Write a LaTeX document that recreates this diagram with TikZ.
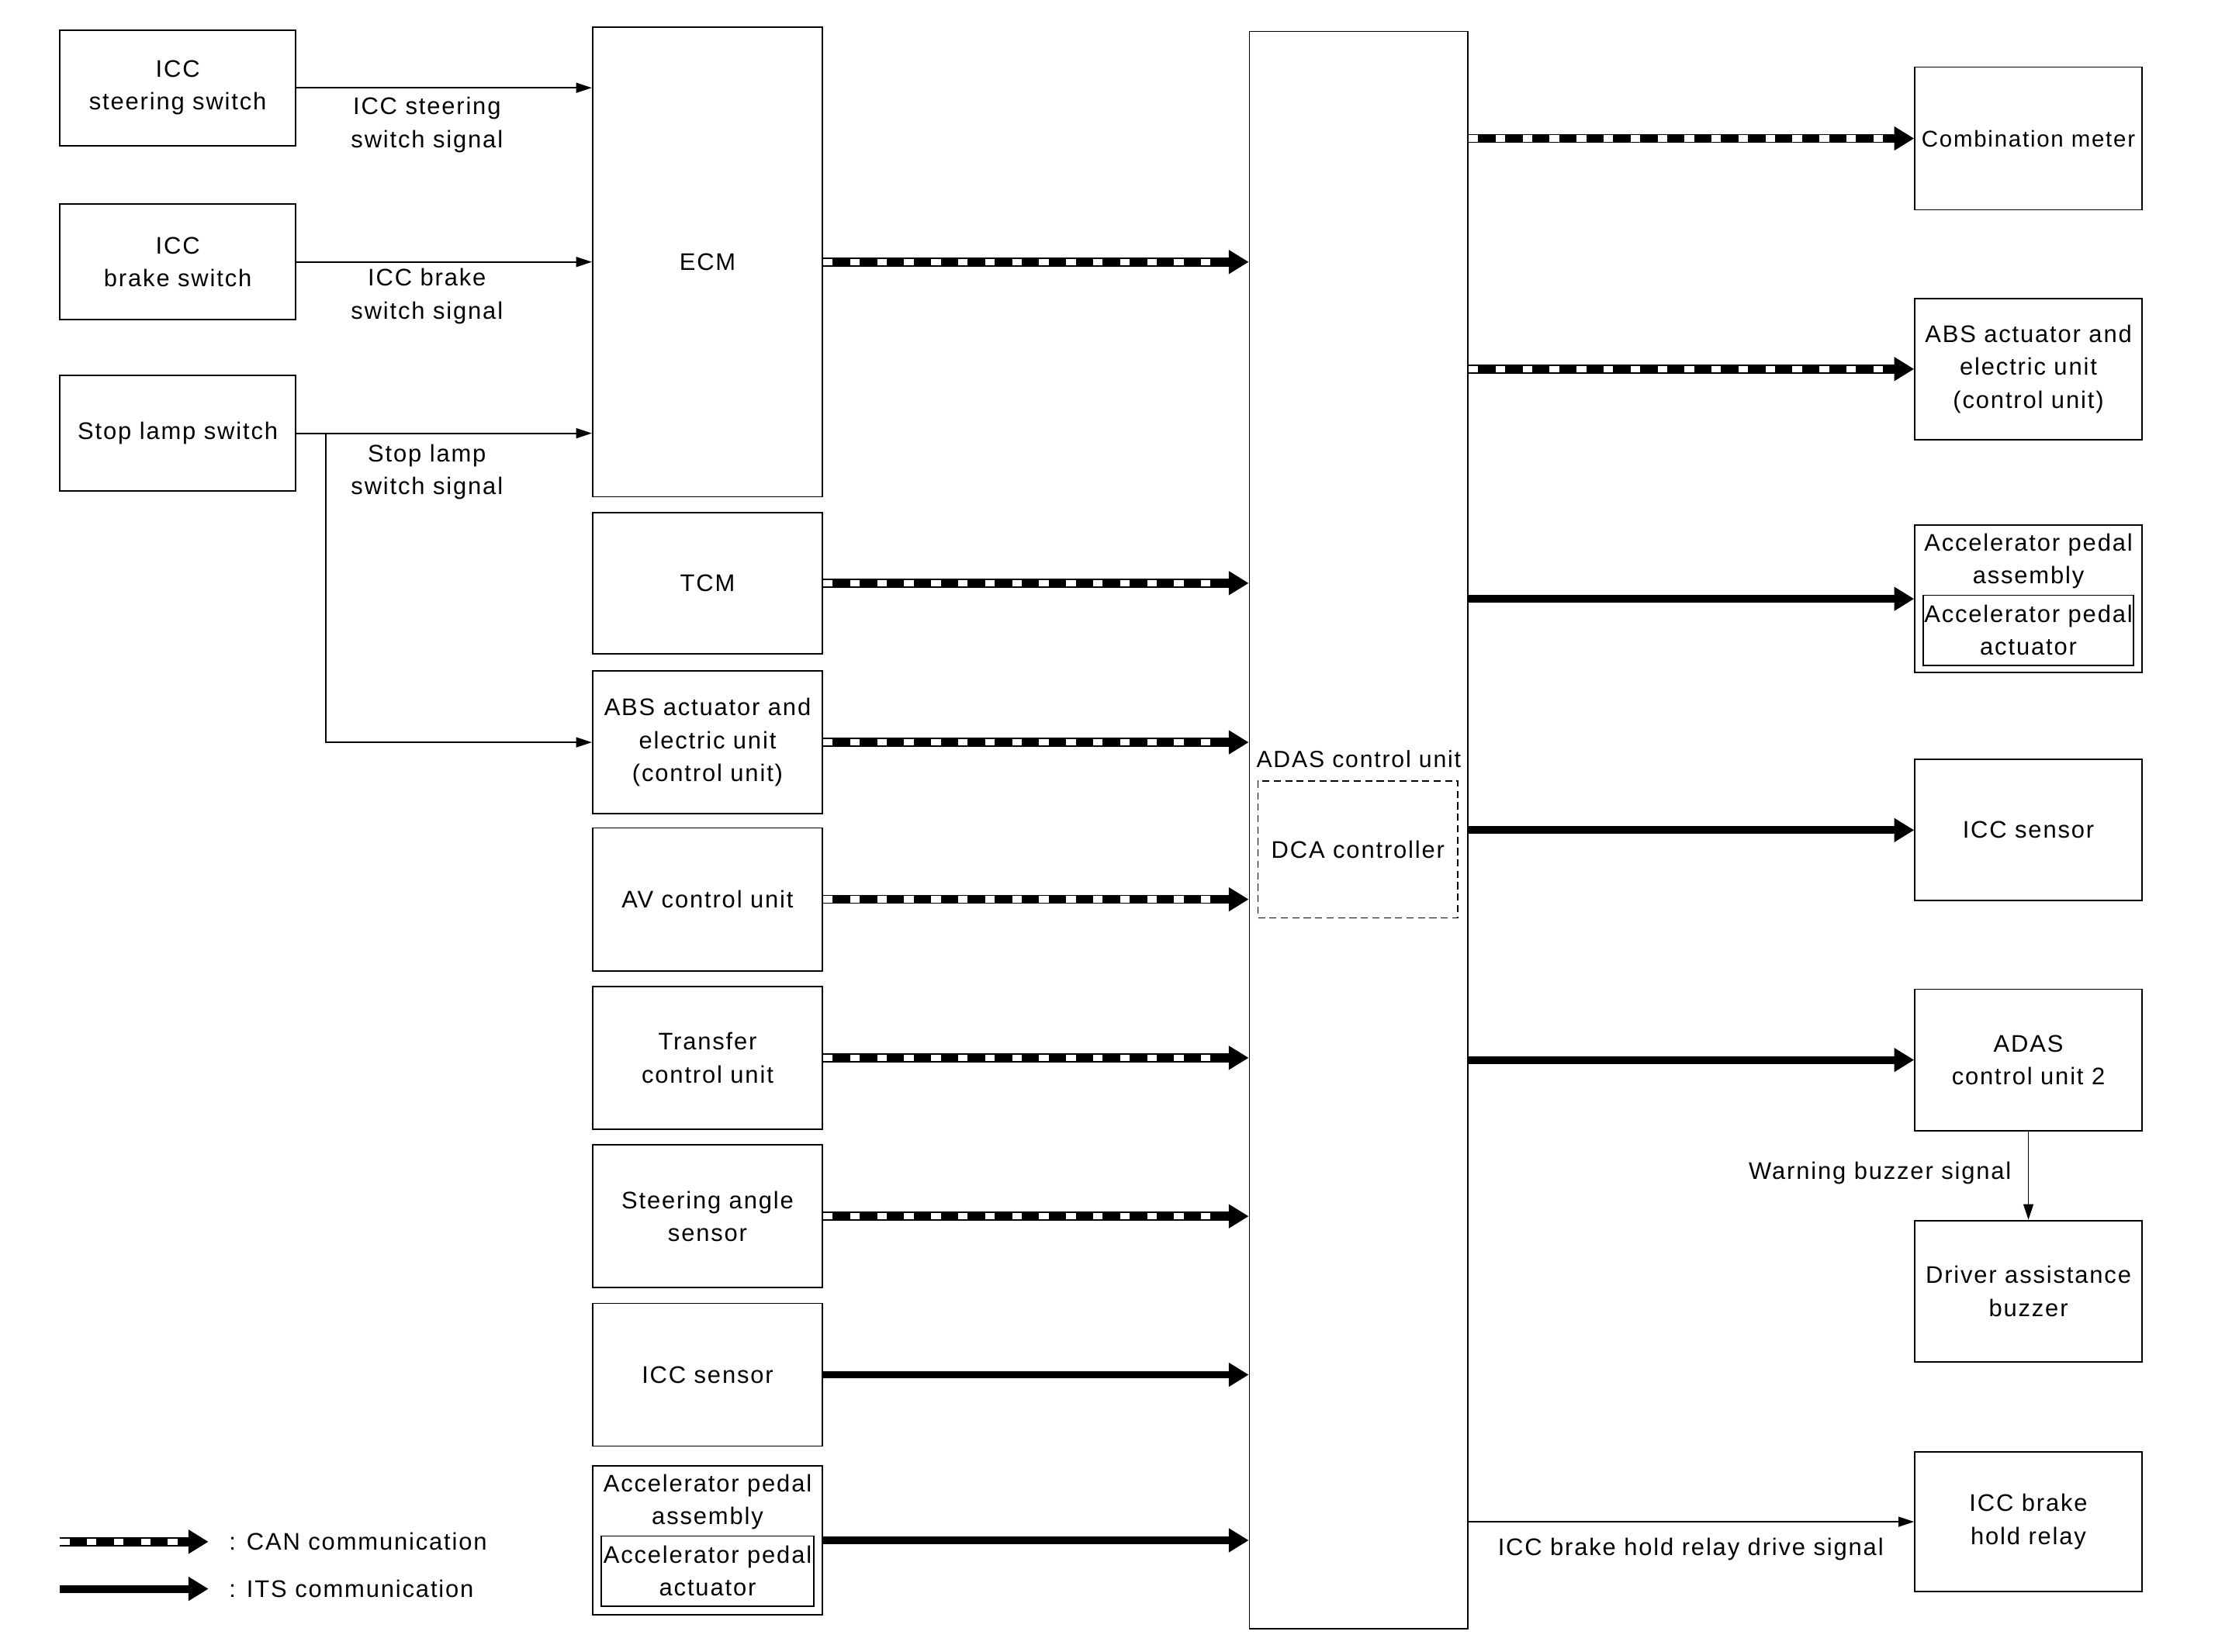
\documentclass[tikz,border=0pt]{standalone}
\usepackage{fontspec}
\setmainfont{Liberation Sans}[LetterSpace=6.0]
\usetikzlibrary{arrows.meta}
\tikzset{
  unitbox/.style={draw, line width=1pt, inner sep=0pt, align=center},
  canline/.style={line width=6.3pt, -{Triangle[length=14pt,width=16pt]},
    postaction={draw=white, line width=4.5pt, dash pattern=on 6.7pt off 12.2pt, shorten >=15pt, -}},
  itsline/.style={line width=5.4pt, -{Triangle[length=14pt,width=16pt]}},
  sig/.style={line width=1pt, -{Triangle[length=11pt,width=7pt]}}
}
\begin{document}
\begin{tikzpicture}[x=1pt,y=-1pt,every node/.style={font=\fontsize{16.8}{23}\selectfont}]
      \useasboundingbox (0,0) rectangle (1568,1157);
      % left switches
      \node[unitbox, minimum width=165pt, minimum height=81pt] (sws) at (124.5,61.5) {ICC\\steering switch};
      \node[unitbox, minimum width=165pt, minimum height=81pt] (bsw) at (124.5,183.5) {ICC\\brake switch};
      \node[unitbox, minimum width=165pt, minimum height=81pt] (slsw) at (124.5,303.5) {Stop lamp switch};
      % middle column
      \node[unitbox, minimum width=161pt, minimum height=329pt] (ecm) at (495.5,183.5) {ECM};
      \node[unitbox, minimum width=161pt, minimum height=99pt] (tcm) at (495.5,408.5) {TCM};
      \node[unitbox, minimum width=161pt, minimum height=100pt] (abs) at (495.5,520) {ABS actuator and\\electric unit\\(control unit)};
      \node[unitbox, minimum width=161pt, minimum height=100pt] (av) at (495.5,630) {AV control unit};
      \node[unitbox, minimum width=161pt, minimum height=100pt] (tf) at (495.5,741) {Transfer\\control unit};
      \node[unitbox, minimum width=161pt, minimum height=100pt] (sas) at (495.5,852) {Steering angle\\sensor};
      \node[unitbox, minimum width=161pt, minimum height=100pt] (iccs) at (495.5,963) {ICC sensor};
      \node[unitbox, minimum width=161pt, minimum height=104pt] (apa) at (495.5,1079) {};
      \node[align=center, inner sep=0pt] (apatxt) at (495.5,1052) {Accelerator pedal\\assembly};
      \node[unitbox, minimum width=149pt, minimum height=49pt] (apai) at (495.5,1100.5) {Accelerator pedal\\actuator};
      % ADAS control unit
      \node[unitbox, minimum width=153pt, minimum height=1119pt] (adas) at (951.5,581.5) {};
      \node[inner sep=0pt, font=\fontsize{16.4}{23}\selectfont] (adaslbl) at (951.5,532) {ADAS control unit};
      \node[unitbox, dash pattern=on 5pt off 3pt, minimum width=140pt, minimum height=96pt] (dca) at (951,595) {DCA controller};
      % right column
      \node[unitbox, minimum width=159pt, minimum height=100pt, font=\fontsize{16}{23}\selectfont] (cm) at (1420.5,97) {Combination meter};
      \node[unitbox, minimum width=159pt, minimum height=99pt] (absr) at (1420.5,258.5) {ABS actuator and\\electric unit\\(control unit)};
      \node[unitbox, minimum width=159pt, minimum height=103pt] (apar) at (1420.5,419.5) {};
      \node[align=center, inner sep=0pt] (apartxt) at (1420.5,393) {Accelerator pedal\\assembly};
      \node[unitbox, minimum width=147pt, minimum height=49pt] (apari) at (1420.5,441.5) {Accelerator pedal\\actuator};
      \node[unitbox, minimum width=159pt, minimum height=99pt] (iccr) at (1420.5,581.5) {ICC sensor};
      \node[unitbox, minimum width=159pt, minimum height=99pt] (adasr) at (1420.5,742.5) {ADAS\\control unit 2};
      \node[unitbox, minimum width=159pt, minimum height=99pt] (buzz) at (1420.5,904.5) {Driver assistance\\buzzer};
      \node[unitbox, minimum width=159pt, minimum height=98pt] (relay) at (1420.5,1066) {ICC brake\\hold relay};
      % switch signals
      \draw[sig] (sws.east) -- (sws.east -| ecm.west);
      \draw[sig] (bsw.east) -- (bsw.east -| ecm.west);
      \draw[sig] (slsw.east) -- (slsw.east -| ecm.west);
      \coordinate (br) at (228,303.5);
      \draw[sig] (br) |- (abs.west);
      \node[align=center] (swsig) at (299,87.5) {ICC steering\\switch signal};
      \node[align=center] (bsig) at (299,207.5) {ICC brake\\switch signal};
      \node[align=center] (slsig) at (299,330.5) {Stop lamp\\switch signal};
      % inputs to ADAS
      \foreach \n in {ecm,tcm,abs,av,tf,sas}
        \draw[canline] (\n.east) -- (\n.east -| adas.west);
      \foreach \n in {iccs,apa}
        \draw[itsline] (\n.east) -- (\n.east -| adas.west);
      % outputs from ADAS
      \foreach \n in {cm,absr}
        \draw[canline] (adas.east |- \n.west) -- (\n.west);
      \foreach \n in {apar,iccr,adasr}
        \draw[itsline] (adas.east |- \n.west) -- (\n.west);
      \draw[sig] (adasr.south) -- (buzz.north);
      \node[anchor=east] (wbsig) at (1412,821.5) {Warning buzzer signal};
      \draw[sig] (adas.east |- relay.west) -- (relay.west);
      \node (rlsig) at (1184,1085) {ICC brake hold relay drive signal};
      % legend
      \coordinate (can1) at (42,1080);
      \coordinate (can2) at (146,1080);
      \coordinate (its1) at (42,1113);
      \coordinate (its2) at (146,1113);
      \draw[canline] (can1) -- (can2);
      \draw[itsline] (its1) -- (its2);
      \node[anchor=west] (canlbl) at (157,1080) {: CAN communication};
      \node[anchor=west] (itslbl) at (157,1113) {: ITS communication};
    \end{tikzpicture}
\end{document}
